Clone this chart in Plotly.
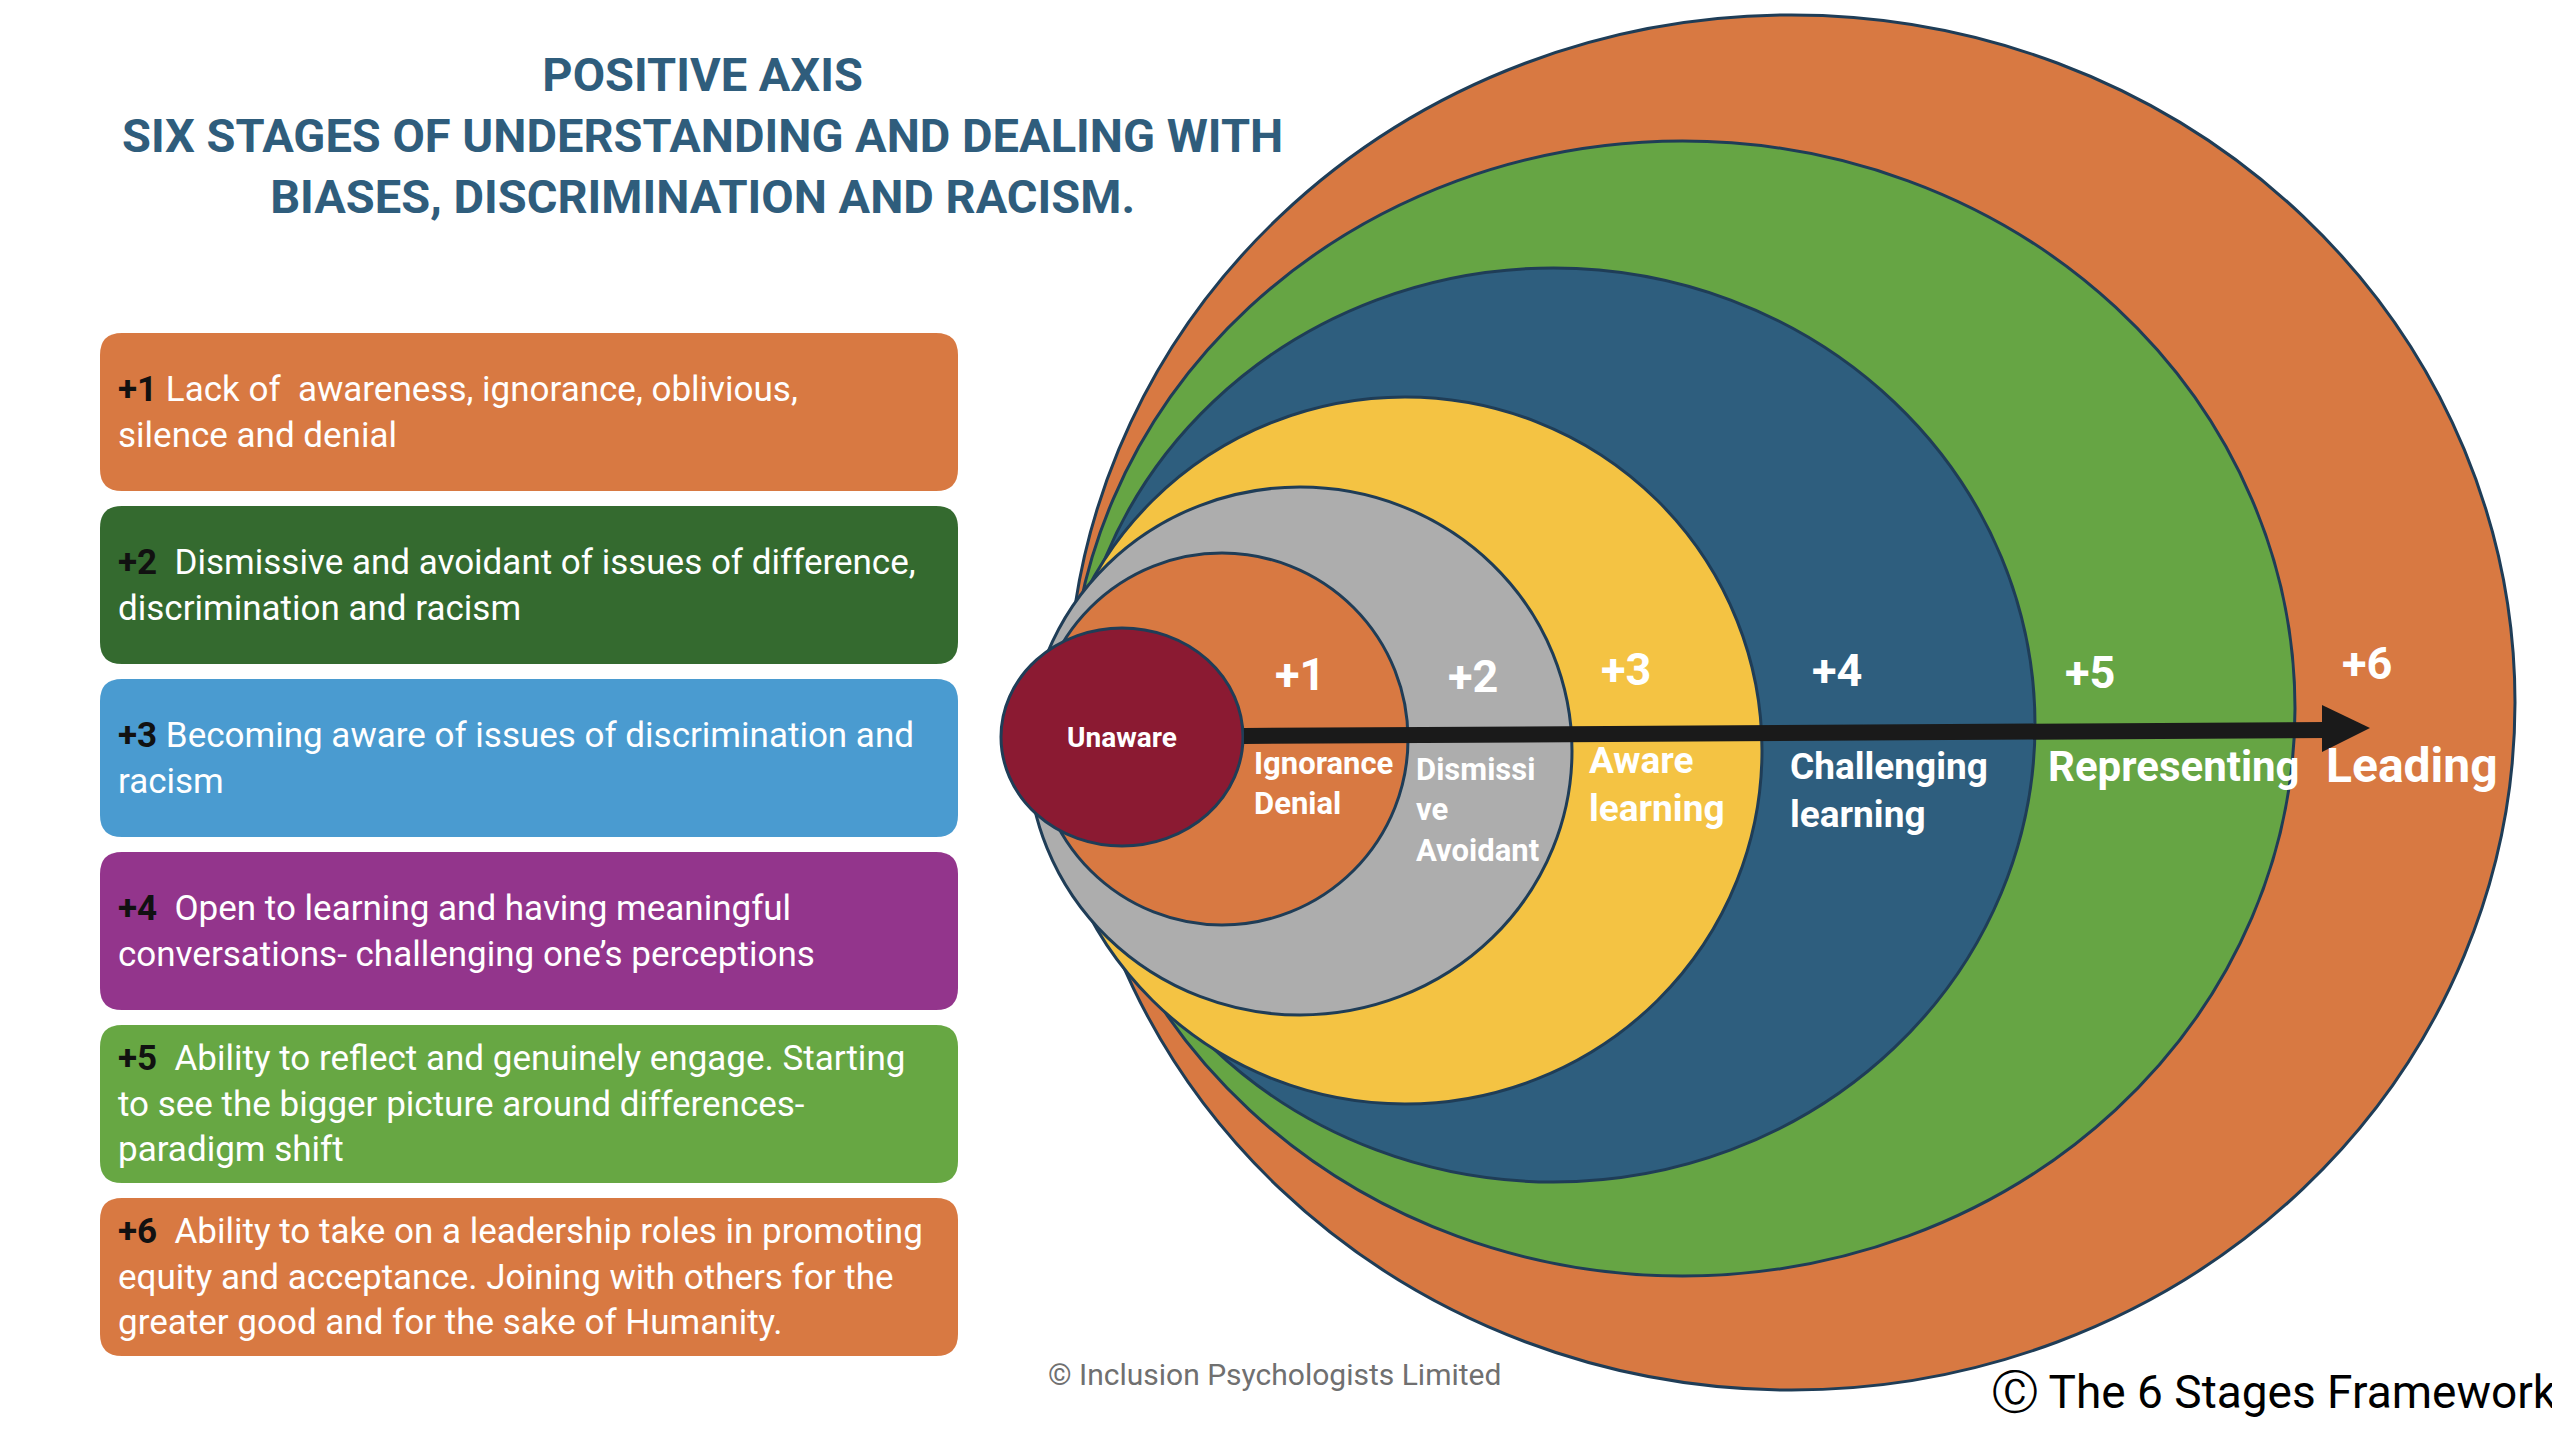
import plotly.graph_objects as go

# stage content
stage_nums = ["+1", "+2", "+3", "+4", "+5", "+6"]
stage_names = ["Ignorance<br>Denial", "Dismissi<br>ve<br>Avoidant", "Aware<br>learning",
               "Challenging<br>learning", "Representing", "Leading"]
box_texts = [
    "Lack of  awareness, ignorance, oblivious,<br>silence and denial",
    " Dismissive and avoidant of issues of difference,<br>discrimination and racism",
    "Becoming aware of issues of discrimination and<br>racism",
    " Open to learning and having meaningful<br>conversations- challenging one\u2019s perceptions",
    " Ability to reflect and genuinely engage. Starting<br>to see the bigger picture around differences-<br>paradigm shift",
    " Ability to take on a leadership roles in promoting<br>equity and acceptance. Joining with others for the<br>greater good and for the sake of Humanity.",
]
box_colors = ["#D87942", "#346A2F", "#4A9BD0", "#93358C", "#67A743", "#D87942"]

# rings, outermost first: +6 ... +1, then the "Unaware" core
ring_colors = ["#D87942", "#66A544", "#2E5E7E", "#F4C343", "#ADADAD", "#D87942", "#8B1A32"]
ring_left = [1068, 1070, 1072, 1048, 1028, 1036, 1001]
ring_right = [2515, 2295, 2035, 1762, 1572, 1408, 1243]
ring_top = [15, 141, 268, 397, 487, 553, 628]
ring_bottom = [1390, 1276, 1182, 1104, 1015, 925, 846]

# label placement
num_x = [1300, 1473, 1626, 1837, 2090, 2367]
num_y = [674, 676, 669, 670, 672, 663]
name_x = [1252, 1414, 1587, 1788, 2046, 2324]
name_y = [764, 770, 762, 768, 769, 768]
name_size = [31, 31, 37, 37, 42, 48]

box_top = [333, 506, 679, 852, 1025, 1198]
box_h = 158
box_x0, box_x1 = 100, 958

arrow_start = (1244, 736)
arrow_end = (2322, 730)
arrow_tip = (2370, 728)

OUTLINE = "#1F3D57"
FONT = "Roboto"
# the page body has an 8px margin, so the axes start at 8 to keep page pixels = data units
OFF = 8

fig = go.Figure()
fig.add_trace(go.Scatter(x=[OFF, 2560], y=[OFF, 1440], mode="markers",
                         marker=dict(opacity=0), hoverinfo="skip", showlegend=False))


def rounded_rect(x0, y0, x1, y1, r):
    return (f"M{x0 + r},{y0} L{x1 - r},{y0} Q{x1},{y0} {x1},{y0 + r} "
            f"L{x1},{y1 - r} Q{x1},{y1} {x1 - r},{y1} L{x0 + r},{y1} "
            f"Q{x0},{y1} {x0},{y1 - r} L{x0},{y0 + r} Q{x0},{y0} {x0 + r},{y0} Z")


shapes = []
annotations = []

# left-hand description boxes
for i, (num, txt, col) in enumerate(zip(stage_nums, box_texts, box_colors)):
    y0 = box_top[i]
    shapes.append(dict(type="path", path=rounded_rect(box_x0, y0, box_x1, y0 + box_h, 22),
                       fillcolor=col, line=dict(width=0), layer="below"))
    annotations.append(dict(
        x=116, y=y0 + box_h / 2, xanchor="left", yanchor="middle", align="left",
        text=f"<span style='color:#111111'><b>{num}</b></span> {txt}",
        font=dict(family=FONT, size=35, color="white"), showarrow=False))

# nested rings
for i in range(len(ring_colors)):
    shapes.append(dict(type="circle", x0=ring_left[i], x1=ring_right[i],
                       y0=ring_top[i], y1=ring_bottom[i],
                       fillcolor=ring_colors[i], line=dict(color=OUTLINE, width=3)))

# arrow
shapes.append(dict(type="line", x0=arrow_start[0], y0=arrow_start[1],
                   x1=arrow_end[0] + 4, y1=arrow_end[1],
                   line=dict(color="#1A1A1A", width=16)))
ax, ay = arrow_end
tx, ty = arrow_tip
shapes.append(dict(type="path", path=f"M{ax},{ay - 25} L{tx},{ty} L{ax},{ay + 22} Z",
                   fillcolor="#1A1A1A", line=dict(width=0)))

annotations.append(dict(x=(ring_left[-1] + ring_right[-1]) / 2,
                        y=(ring_top[-1] + ring_bottom[-1]) / 2,
                        text="<b>Unaware</b>", showarrow=False,
                        font=dict(family=FONT, size=28, color="white")))

for i in range(6):
    annotations.append(dict(x=num_x[i], y=num_y[i], text=f"<b>{stage_nums[i]}</b>",
                            showarrow=False, xanchor="center", yanchor="middle",
                            font=dict(family=FONT, size=45, color="white")))
    s = name_size[i]
    annotations.append(dict(x=name_x[i], y=name_y[i] - 0.68 * s, text=f"<b>{stage_names[i]}</b>",
                            showarrow=False, xanchor="left", yanchor="top", align="left",
                            font=dict(family=FONT, size=s, color="white")))

# title
annotations.append(dict(
    x=702, y=135, xanchor="center", yanchor="middle", align="center", showarrow=False,
    text="<b>POSITIVE AXIS<br>SIX STAGES OF UNDERSTANDING AND DEALING WITH<br>"
         "BIASES, DISCRIMINATION AND RACISM.</b>",
    font=dict(family=FONT, size=47, color="#2F5D7C")))

# footers
annotations.append(dict(x=1046, y=1374, xanchor="left", yanchor="middle", showarrow=False,
                        text="\u00a9 Inclusion Psychologists Limited",
                        font=dict(family=FONT, size=30, color="#707070")))
annotations.append(dict(x=2559, y=1392, xanchor="right", yanchor="middle", showarrow=False,
                        text="\u24b8 The 6 Stages Framework",
                        font=dict(family=FONT, size=46, color="#000000")))

fig.update_layout(
    width=2560, height=1440, margin=dict(l=0, r=0, t=0, b=0),
    paper_bgcolor="white", plot_bgcolor="white",
    xaxis=dict(range=[OFF, 2560 + OFF], visible=False, fixedrange=True),
    yaxis=dict(range=[1440 + OFF, OFF], visible=False, fixedrange=True),
    shapes=shapes, annotations=annotations, showlegend=False,
)

fig.write_html("out.html")
